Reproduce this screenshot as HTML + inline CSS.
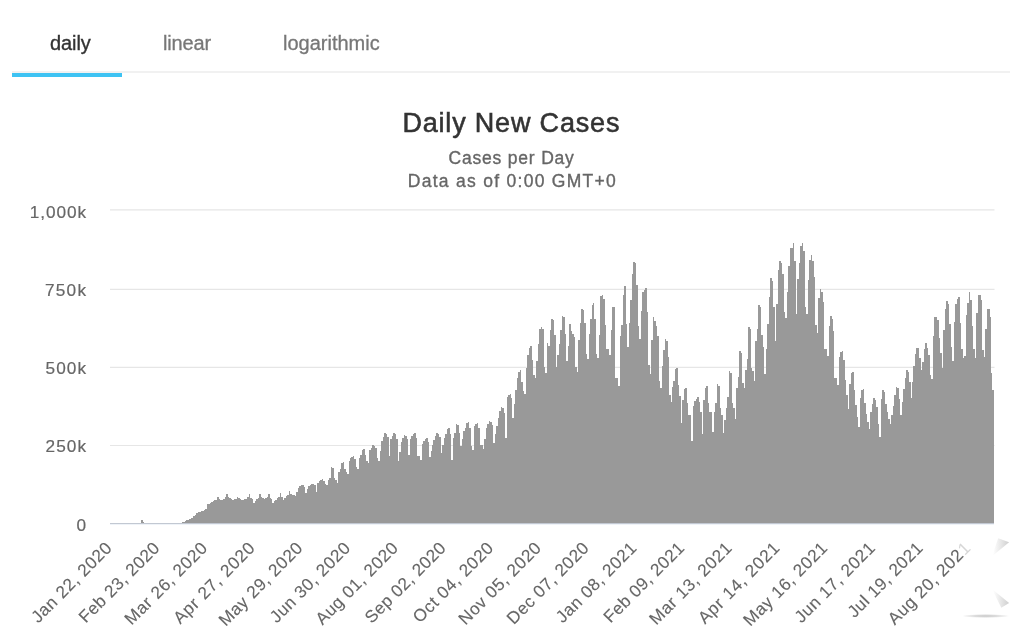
<!DOCTYPE html>
<html><head><meta charset="utf-8"><title>Daily New Cases</title>
<style>
html,body{margin:0;padding:0;background:#fff;}
body{width:1024px;height:641px;overflow:hidden;position:relative;font-family:"Liberation Sans",sans-serif;}
.tabs{position:absolute;left:12px;top:70.8px;width:998px;height:2px;background:#f1f1f1;}
.tab{position:absolute;top:31px;font-size:20px;line-height:24px;color:#777;white-space:nowrap;}
.tab.active{color:#333;-webkit-text-stroke:0.35px #333;}
.tab{-webkit-text-stroke:0.3px #777;}
.ink{position:absolute;left:12px;top:73px;width:110.2px;height:3.6px;background:#3ec3f3;}
svg{position:absolute;left:0;top:0;will-change:transform;}
.tab{will-change:transform;}
svg text{font-family:"Liberation Sans",sans-serif;}
</style></head><body>
<div class="tabs"></div>
<div class="tab active" style="left:50px;letter-spacing:-0.1px">daily</div>
<div class="tab" style="left:163.4px;letter-spacing:-0.15px">linear</div>
<div class="tab" style="left:283px">logarithmic</div>
<div class="ink"></div>
<svg width="1024" height="641" viewBox="0 0 1024 641">
<text x="510.9" y="131.9" text-anchor="middle" font-size="27" fill="#333" stroke="#333" stroke-width="0.55" textLength="217" lengthAdjust="spacing">Daily New Cases</text>
<g font-size="17.5" fill="#666" stroke="#666" stroke-width="0.35" text-anchor="middle">
<text x="511.2" y="164.4" textLength="125.3" lengthAdjust="spacing">Cases per Day</text>
<text x="511.8" y="187.1" textLength="208" lengthAdjust="spacing">Data as of 0:00 GMT+0</text>
</g>
<path d="M110 209.8H994.5" stroke="#e6e6e6" stroke-width="1.2"/>
<path d="M110 289.3H994.5" stroke="#e6e6e6" stroke-width="1.2"/>
<path d="M110 367.4H994.5" stroke="#e6e6e6" stroke-width="1.2"/>
<path d="M110 445.5H994.5" stroke="#e6e6e6" stroke-width="1.2"/>
<path d="M110 523.5H994" stroke="#c2c8d2" stroke-width="1"/>
<path d="M110 524.5H994" stroke="#eff3f8" stroke-width="1"/>
<path fill="#999" shape-rendering="crispEdges" d="M110 523V522.6H111.49V522.6H112.98V522.6H114.47V522.6H115.96V522.6H117.45V522.6H118.94V522.6H120.43V522.6H121.93V522.6H123.42V522.6H124.91V522.6H126.4V522.6H127.89V522.6H129.38V522.6H130.87V522.6H132.36V522.6H133.85V522.6H135.34V522.6H136.83V522.6H138.32V522.6H139.81V522.6H141.3V520.2H142.8V522H144.29V522.6H145.78V522.6H147.27V522.61H148.76V522.61H150.25V522.62H151.74V522.62H153.23V522.62H154.72V522.63H156.21V522.63H157.7V522.64H159.19V522.64H160.68V522.65H162.17V522.65H163.67V522.65H165.16V522.66H166.65V522.66H168.14V522.67H169.63V522.67H171.12V522.68H172.61V522.68H174.1V522.68H175.59V522.69H177.08V522.69H178.57V522.7H180.06V522.7H181.55V522.4H183.04V521.75H184.53V521.1H186.03V520.45H187.52V519.8H189.01V519.03H190.5V518.27H191.99V517.5H193.48V516H194.97V514.5H196.46V513H197.95V512.43H199.44V511.87H200.93V511.3H202.42V510.63H203.91V509.97H205.4V509.3H206.9V504.2H208.39V503.8H209.88V503.4H211.37V502.2H212.86V501H214.35V500H215.84V499.5H217.33V497.25H218.82V498.9H220.31V499.59H221.8V500H223.29V498.5H224.78V497.3H226.27V494H227.77V496.7H229.26V497.6H230.75V499.1H232.24V500H233.73V499.23H235.22V498.61H236.71V496.9H238.2V498.29H239.69V498.76H241.18V500H242.67V499.5H244.16V499H245.65V498.5H247.14V497.3H248.64V494H250.13V498.05H251.62V499.4H253.11V503H254.6V500.75H256.09V498.95H257.58V498.05H259.07V494H260.56V496.85H262.05V498.04H263.54V498.75H265.03V497.56H266.52V496.61H268.01V494H269.5V497.82H271V499.1H272.49V502.5H273.98V501.25H275.47V500H276.96V498H278.45V497H279.94V492.5H281.43V497H282.92V500H284.41V497.75H285.9V495.95H287.39V495.05H288.88V491H290.37V493.76H291.87V494.91H293.36V494.91H294.85V495.6H296.34V491.78H297.83V487.97H299.32V486.27H300.81V485H302.3V485.38H303.79V486.5H305.28V492.5H306.77V489.26H308.26V486.02H309.75V484.58H311.24V483.5H312.74V483.92H314.23V485.18H315.72V491.9H317.21V482.9H318.7V480.9H320.19V480.02H321.68V479.4H323.17V480.52H324.66V484.16H326.15V485H327.64V480.38H329.13V477.5H330.62V467H332.11V467.77H333.61V477.5H335.1V480.18H336.59V482.5H338.08V471.99H339.57V468.75H341.06V463.26H342.55V462.25H344.04V468.75H345.53V472.02H347.02V473.75H348.51V461.15H350V458.35H351.49V457.12H352.98V456.25H354.47V458.88H355.97V467.43H357.46V469.4H358.95V458.34H360.44V455H361.93V449.55H363.42V448.5H364.91V455H366.4V460.82H367.89V463H369.38V450.33H370.87V447.51H372.36V445.4H373.85V446.16H375.34V448.44H376.84V458.32H378.33V460.6H379.82V451.03H381.31V441.46H382.8V437H384.29V432.75H385.78V433.91H387.27V437H388.76V456H390.25V439.44H391.74V435.76H393.23V433H394.72V434.4H396.21V438.6H397.71V461H399.2V451.64H400.69V442.28H402.18V438.12H403.67V435H405.16V436H406.65V439H408.14V455H409.63V439.23H411.12V435.73H412.61V434.2H414.1V433.1H415.59V438.48H417.08V455.97H418.57V455.97H420.07V460H421.56V444.23H423.05V440.73H424.54V439.2H426.03V438.1H427.52V441.86H429.01V456.9H430.5V451.19H431.99V445.48H433.48V439.76H434.97V435.96H436.46V433.1H437.95V434.1H439.44V437.08H440.94V453H442.43V445.49H443.92V437.98H445.41V434H446.9V429.35H448.39V428.1H449.88V434H451.37V460H452.86V438.3H454.35V432.5H455.84V423.75H457.33V424.88H458.82V432.5H460.31V446.25H461.81V438.79H463.3V431.34H464.79V427.5H466.28V423.45H467.77V422.25H469.26V427.5H470.75V445.84H472.24V450H473.73V426.02H475.22V424.11H476.71V422.75H478.2V427.95H479.69V444.85H481.18V444.85H482.67V448.75H484.17V438.62H485.66V428.48H487.15V423.98H488.64V420.6H490.13V421.7H491.62V424.98H493.11V442.5H494.6V434.42H496.09V426.35H497.58V418.27H499.07V410.81H500.56V406.9H502.05V408.12H503.54V412.94H505.04V437.5H506.53V396.52H508.02V395.26H509.51V393.5H511V398.18H512.49V417.5H513.98V403.58H515.47V389.66H516.96V377.83H518.45V372.19H519.94V370.3H521.43V381.94H522.92V391.4H524.41V393.75H525.91V368.22H527.4V355.12H528.89V348.01H530.38V346.1H531.87V360.04H533.36V374.9H534.85V378.1H536.34V360.85H537.83V343.6H539.32V328.7H540.81V327.3H542.3V329H543.79V367H545.28V373.4H546.78V342.56H548.27V346.1H549.76V330H551.25V318.7H552.74V320H554.23V334.9H555.72V367.2H557.21V355.4H558.7V343.6H560.19V330H561.68V315.6H563.17V317H564.66V333.7H566.15V361H567.64V345.5H569.14V324.3H570.63V331H572.12V334H573.61V337H575.1V367.13H576.59V371.9H578.08V340H579.57V323H581.06V308.6H582.55V310H584.04V323H585.53V353.6H587.02V358.6H588.51V333.7H590.01V318.7H591.5V305H592.99V303.1H594.48V318.7H595.97V353.6H597.46V357.8H598.95V335H600.44V296.2H601.93V295H603.42V299.4H604.91V324.5H606.4V348.76H607.89V348.76H609.38V354.7H610.88V330.4H612.37V307.3H613.86V307.3H615.35V378.13H616.84V378.13H618.33V386H619.82V336H621.31V324.5H622.8V295H624.29V285.7H625.78V324.1H627.27V347H628.76V323.38H630.25V299.75H631.75V274H633.24V261.5H634.73V263.4H636.22V284.5H637.71V325.7H639.2V339.4H640.69V310.5H642.18V292.3H643.67V289.6H645.16V287.6H646.65V312H648.14V365.35H649.63V374H651.12V339.75H652.61V316.7H654.11V321.4H655.6V326H657.09V336.2H658.58V380.66H660.07V387.8H661.56V365.62H663.05V350.16H664.54V338.5H666.03V341.02H667.52V356.52H669.01V395.2H670.5V401.5H671.99V387.42H673.48V381.26H674.98V368.86H676.47V367.5H677.96V384.7H679.45V396.07H680.94V422.6H682.43V400.28H683.92V389.19H685.41V387.8H686.9V403.4H688.39V414.75H689.88V414.75H691.37V441.25H692.86V405.54H694.35V401H695.85V398.77H697.34V397H698.83V402H700.32V411.52H701.81V433.75H703.3V399.9H704.79V387.81H706.28V385.9H707.77V403.4H709.26V411.95H710.75V411.95H712.24V431.9H713.73V411.8H715.22V403.28H716.71V384.4H718.21V386.32H719.7V408H721.19V415.35H722.68V432.5H724.17V420.23H725.66V407.95H727.15V396.52H728.64V370.6H730.13V372.52H731.62V403H733.11V407.65H734.6V418.5H736.09V388.39H737.58V376.62H739.08V351.1H740.57V352.57H742.06V383H743.55V387.8H745.04V369.56H746.53V359.4H748.02V327H749.51V329.15H751V367.5H752.49V371.46H753.98V380.7H755.47V341.1H756.96V328.9H758.45V304.5H759.95V307.28H761.44V335H762.93V346.7H764.42V374H765.91V348.76H767.4V323.52H768.89V296.7H770.38V278H771.87V280.5H773.36V306.9H774.85V340.5H776.34V303.87H777.83V270.4H779.32V261H780.81V263H782.31V273.9H783.8V311.91H785.29V317.5H786.78V291.6H788.27V265.7H789.76V247.7H791.25V247.7H792.74V243H794.23V261.4H795.72V314H797.21V278.51H798.7V263H800.19V245.8H801.68V243.4H803.18V250.8H804.67V307H806.16V314H807.65V280H809.14V260.2H810.63V255.1H812.12V261.4H813.61V276.6H815.1V325.41H816.59V333.2H818.08V297.62H819.57V289.2H821.06V291.86H822.55V302.2H824.05V348.96H825.54V348.96H827.03V355.6H828.52V325.53H830.01V316.4H831.5V319.15H832.99V330.51H834.48V378.32H835.97V378.32H837.46V385.2H838.95V356.82H840.44V351.89H841.93V350.5H843.42V360.27H844.92V380.34H846.41V395.21H847.9V408.6H849.39V383.83H850.88V373.18H852.37V371.7H853.86V390.44H855.35V405.46H856.84V416.58H858.33V426.6H859.82V398.17H861.31V390.12H862.8V388.6H864.29V403.39H865.78V413.98H867.28V421.83H868.77V428.9H870.26V412.26H871.75V404.01H873.24V398.4H874.73V399.93H876.22V407.07H877.71V424.09H879.2V436.7H880.69V398.94H882.18V390.3H883.67V391.66H885.16V403.64H886.65V412.18H888.15V418.51H889.64V424.2H891.13V415.13H892.62V406.06H894.11V395.03H895.6V387H897.09V388.11H898.58V399.41H900.07V414.8H901.56V401.86H903.05V388.93H904.54V377.66H906.03V370.4H907.52V371.52H909.02V381.62H910.51V398.4H912V382.25H913.49V366.11H914.98V354.38H916.47V347.5H917.96V348.38H919.45V358.12H920.94V369.5H922.43V362.3H923.92V348.7H925.41V342.8H926.9V348H928.39V354.9H929.88V375.26H931.38V378.9H932.87V336.2H934.36V316.9H935.85V316.9H937.34V319.6H938.83V337.7H940.32V353.3H941.81V368.2H943.3V330.1H944.79V309H946.28V301.2H947.77V304.4H949.26V324.3H950.75V347.1H952.25V360.8H953.74V321.5H955.23V304.4H956.72V298.5H958.21V296.5H959.7V322.7H961.19V348.7H962.68V358H964.17V356H965.66V314.9H967.15V302.8H968.64V292.25H970.13V300H971.62V325.8H973.12V348.7H974.61V358H976.1V313.3H977.59V295.4H979.08V295.4H980.57V299.7H982.06V349.8H983.55V356.5H985.04V328.6H986.53V309H988.02V309H989.51V316.5H991V373H992.49V390H993.99V523Z"/>
<g font-size="17.2" fill="#666" stroke="#666" stroke-width="0.2">
<text x="86" y="217.8" text-anchor="end" textLength="56.3" lengthAdjust="spacing">1,000k</text>
<text x="86" y="296.1" text-anchor="end" textLength="41.0" lengthAdjust="spacing">750k</text>
<text x="86" y="374.2" text-anchor="end" textLength="40.5" lengthAdjust="spacing">500k</text>
<text x="86" y="452.3" text-anchor="end" textLength="40.5" lengthAdjust="spacing">250k</text>
<text x="86" y="530.6" text-anchor="end">0</text>
</g>
<g font-size="17.2" fill="#666" stroke="#666" stroke-width="0.12">
<text transform="translate(112.75,549.20) rotate(-45)" text-anchor="end" textLength="105.5" lengthAdjust="spacing">Jan 22, 2020</text>
<text transform="translate(160.45,549.20) rotate(-45)" text-anchor="end" textLength="105.5" lengthAdjust="spacing">Feb 23, 2020</text>
<text transform="translate(208.15,549.20) rotate(-45)" text-anchor="end" textLength="108.3" lengthAdjust="spacing">Mar 26, 2020</text>
<text transform="translate(255.85,549.20) rotate(-45)" text-anchor="end" textLength="107.0" lengthAdjust="spacing">Apr 27, 2020</text>
<text transform="translate(303.55,549.20) rotate(-45)" text-anchor="end" textLength="110.2" lengthAdjust="spacing">May 29, 2020</text>
<text transform="translate(351.26,549.20) rotate(-45)" text-anchor="end" textLength="105.5" lengthAdjust="spacing">Jun 30, 2020</text>
<text transform="translate(398.96,549.20) rotate(-45)" text-anchor="end" textLength="108.3" lengthAdjust="spacing">Aug 01, 2020</text>
<text transform="translate(446.66,549.20) rotate(-45)" text-anchor="end" textLength="106.0" lengthAdjust="spacing">Sep 02, 2020</text>
<text transform="translate(494.36,549.20) rotate(-45)" text-anchor="end" textLength="105.5" lengthAdjust="spacing">Oct 04, 2020</text>
<text transform="translate(542.07,549.20) rotate(-45)" text-anchor="end" textLength="108.3" lengthAdjust="spacing">Nov 05, 2020</text>
<text transform="translate(589.77,549.20) rotate(-45)" text-anchor="end" textLength="107.5" lengthAdjust="spacing">Dec 07, 2020</text>
<text transform="translate(637.47,549.20) rotate(-45)" text-anchor="end" textLength="105.5" lengthAdjust="spacing">Jan 08, 2021</text>
<text transform="translate(685.17,549.20) rotate(-45)" text-anchor="end" textLength="105.5" lengthAdjust="spacing">Feb 09, 2021</text>
<text transform="translate(732.88,549.20) rotate(-45)" text-anchor="end" textLength="108.3" lengthAdjust="spacing">Mar 13, 2021</text>
<text transform="translate(780.58,549.20) rotate(-45)" text-anchor="end" textLength="107.0" lengthAdjust="spacing">Apr 14, 2021</text>
<text transform="translate(828.28,549.20) rotate(-45)" text-anchor="end" textLength="110.2" lengthAdjust="spacing">May 16, 2021</text>
<text transform="translate(875.98,549.20) rotate(-45)" text-anchor="end" textLength="105.5" lengthAdjust="spacing">Jun 17, 2021</text>
<text transform="translate(923.69,549.20) rotate(-45)" text-anchor="end" textLength="98.0" lengthAdjust="spacing">Jul 19, 2021</text>
<text transform="translate(971.39,549.20) rotate(-45)" text-anchor="end" textLength="108.3" lengthAdjust="spacing">Aug 20, 202<tspan fill="#d6d6d6" stroke="none">1</tspan></text>
</g>
<defs>
<linearGradient id="wg1" gradientUnits="userSpaceOnUse" x1="993" y1="0" x2="1009" y2="0"><stop offset="0" stop-color="#fff"/><stop offset="1" stop-color="#cfcfcf"/></linearGradient>
<radialGradient id="wg2"><stop offset="0" stop-color="#c8c8c8"/><stop offset="0.5" stop-color="#dcdcdc"/><stop offset="1" stop-color="#fff"/></radialGradient>
<filter id="wb" x="-20%" y="-20%" width="140%" height="140%"><feGaussianBlur stdDeviation="0.5"/></filter>
</defs>
<g filter="url(#wb)">
<path d="M992 556.2L998.2 538.3L1009.1 542.2Z" fill="url(#wg1)"/>
<path d="M992 589L1009.1 603L1001.3 607.7Z" fill="url(#wg1)"/>
<ellipse cx="985.7" cy="616" rx="24" ry="2" fill="url(#wg2)"/>
</g>
</svg>
</body></html>
